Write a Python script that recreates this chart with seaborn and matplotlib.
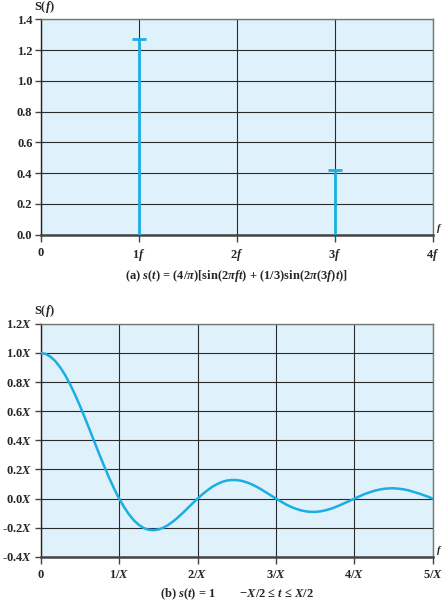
import matplotlib
matplotlib.use("Agg")
import matplotlib.pyplot as plt
import pandas as pd
import seaborn as sns

# (a) line spectrum of the two-sine signal
harmonics = [1, 3]
amplitudes = [1.273, 0.424]
top_xticks = [0, 1, 2, 3, 4]
top_xlabels = ["0", r"1$\mathit{f}$", r"2$\mathit{f}$", r"3$\mathit{f}$", r"4$\mathit{f}$"]
top_yticks = [0.0, 0.2, 0.4, 0.6, 0.8, 1.0, 1.2, 1.4]

# (b) spectrum of the pulse (units of X)
freq = [0.0, 0.0625, 0.125, 0.1875, 0.25, 0.3125, 0.375, 0.4375,
        0.5, 0.5625, 0.625, 0.6875, 0.75, 0.8125, 0.875, 0.9375,
        1.0, 1.0625, 1.125, 1.1875, 1.25, 1.3125, 1.375, 1.4375,
        1.5, 1.5625, 1.625, 1.6875, 1.75, 1.8125, 1.875, 1.9375,
        2.0, 2.0625, 2.125, 2.1875, 2.25, 2.3125, 2.375, 2.4375,
        2.5, 2.5625, 2.625, 2.6875, 2.75, 2.8125, 2.875, 2.9375,
        3.0, 3.0625, 3.125, 3.1875, 3.25, 3.3125, 3.375, 3.4375,
        3.5, 3.5625, 3.625, 3.6875, 3.75, 3.8125, 3.875, 3.9375,
        4.0, 4.0625, 4.125, 4.1875, 4.25, 4.3125, 4.375, 4.4375,
        4.5, 4.5625, 4.625, 4.6875, 4.75, 4.8125, 4.875, 4.9375, 5.0]
spectrum = [1.0, 0.994, 0.974, 0.943, 0.900, 0.847, 0.784, 0.714,
            0.637, 0.555, 0.471, 0.385, 0.300, 0.218, 0.139, 0.066,
            0.0, -0.058, -0.108, -0.149, -0.180, -0.202, -0.214, -0.217,
            -0.212, -0.200, -0.181, -0.157, -0.129, -0.098, -0.065, -0.032,
            0.0, 0.030, 0.057, 0.081, 0.100, 0.115, 0.124, 0.128,
            0.127, 0.122, 0.112, 0.099, 0.082, 0.063, 0.042, 0.021,
            0.0, -0.020, -0.039, -0.056, -0.069, -0.080, -0.087, -0.091,
            -0.091, -0.088, -0.081, -0.072, -0.060, -0.046, -0.031, -0.016,
            0.0, 0.015, 0.030, 0.042, 0.053, 0.061, 0.067, 0.070,
            0.071, 0.068, 0.064, 0.057, 0.047, 0.037, 0.025, 0.013, 0.0]
bot_xticks = [0, 1, 2, 3, 4, 5]
bot_xlabels = ["0", r"1/$\mathit{X}$", r"2/$\mathit{X}$", r"3/$\mathit{X}$",
               r"4/$\mathit{X}$", r"5/$\mathit{X}$"]
bot_yticks = [-0.4, -0.2, 0.0, 0.2, 0.4, 0.6, 0.8, 1.0, 1.2]
bot_ylabels = [r"-0.4$\mathit{X}$", r"-0.2$\mathit{X}$", r"0.0$\mathit{X}$",
               r"0.2$\mathit{X}$", r"0.4$\mathit{X}$", r"0.6$\mathit{X}$",
               r"0.8$\mathit{X}$", r"1.0$\mathit{X}$", r"1.2$\mathit{X}$"]

LINE = "#1aaee5"
BG = "#dff1fb"
FS = 9

sns.set_style("whitegrid", {"axes.facecolor": BG, "grid.color": "#2a2a2a"})
plt.rcParams["font.family"] = ["Liberation Serif", "DejaVu Serif"]
plt.rcParams["font.weight"] = "bold"
plt.rcParams["mathtext.fontset"] = "custom"
plt.rcParams["mathtext.rm"] = "Liberation Serif:bold"
plt.rcParams["mathtext.bf"] = "Liberation Serif:bold"
plt.rcParams["mathtext.it"] = "Liberation Serif:bold:italic"

fig = plt.figure(figsize=(4.43, 6.02), dpi=100)
ax1 = fig.add_axes([0.092, 0.610, 0.885, 0.358])
ax2 = fig.add_axes([0.092, 0.075, 0.885, 0.387])


def style_axes(ax):
    ax.grid(True, color="#2a2a2a", linewidth=0.8)
    ax.set_axisbelow(True)
    for side in ["top", "right"]:
        ax.spines[side].set_color("#777777")
        ax.spines[side].set_linewidth(1.0)
    ax.spines["left"].set_color("#222222")
    ax.spines["left"].set_linewidth(1.0)
    ax.spines["bottom"].set_color("#444444")
    ax.spines["bottom"].set_linewidth(1.8)
    ax.tick_params(axis="both", which="both", length=4, width=1, color="#444444",
                   labelsize=FS, pad=2, direction="out", bottom=True, left=True)
    ax.tick_params(axis="x", length=5, pad=4)
    ax.set_xlabel("")
    ax.set_ylabel("")
    for lab in ax.get_xticklabels() + ax.get_yticklabels():
        lab.set_fontweight("bold")
    ax.annotate(r"S($\mathit{f}$)", xy=(0, 1), xycoords="axes fraction", xytext=(-5, 7),
                textcoords="offset points", fontsize=FS, fontweight="bold")
    ax.annotate("f", xy=(1, 0), xycoords="axes fraction", xytext=(3, 3),
                textcoords="offset points", fontsize=7.5, fontweight="bold",
                fontstyle="italic")


# top panel
df_a = pd.DataFrame({"harmonic": harmonics, "amplitude": amplitudes})
ax1.vlines(df_a["harmonic"], 0, df_a["amplitude"], color=LINE, linewidth=2, zorder=3)
sns.scatterplot(data=df_a, x="harmonic", y="amplitude", marker="_", s=90,
                color=LINE, linewidth=2, ax=ax1, zorder=4)
ax1.set_xlim(0, 4)
ax1.set_ylim(0, 1.4)
ax1.set_xticks(top_xticks)
ax1.set_xticklabels(top_xlabels)
ax1.set_yticks(top_yticks)
ax1.set_yticklabels([f"{v:.1f}" for v in top_yticks])
style_axes(ax1)
ax1.text(0.5, -0.19, r"(a) $\mathit{s}$($\mathit{t}$) = (4/$\mathit{π}$)[sin(2$\mathit{πft}$) + "
         r"(1/3)sin(2$\mathit{π}$(3$\mathit{f}$)$\mathit{t}$)]",
         transform=ax1.transAxes, ha="center", va="center", fontsize=FS, fontweight="bold")

# bottom panel
df_b = pd.DataFrame({"freq": freq, "spectrum": spectrum})
sns.lineplot(data=df_b, x="freq", y="spectrum", color=LINE, linewidth=1.8, ax=ax2, zorder=3)
ax2.set_xlim(0, 5)
ax2.set_ylim(-0.4, 1.2)
ax2.set_xticks(bot_xticks)
ax2.set_xticklabels(bot_xlabels)
ax2.set_yticks(bot_yticks)
ax2.set_yticklabels(bot_ylabels)
style_axes(ax2)
ax2.text(0.5, -0.16, r"(b) $\mathit{s}$($\mathit{t}$) = 1        −$\mathit{X}$/2 ≤ $\mathit{t}$ ≤ $\mathit{X}$/2",
         transform=ax2.transAxes, ha="center", va="center", fontsize=FS, fontweight="bold")

fig.savefig("out.png", dpi=100)
